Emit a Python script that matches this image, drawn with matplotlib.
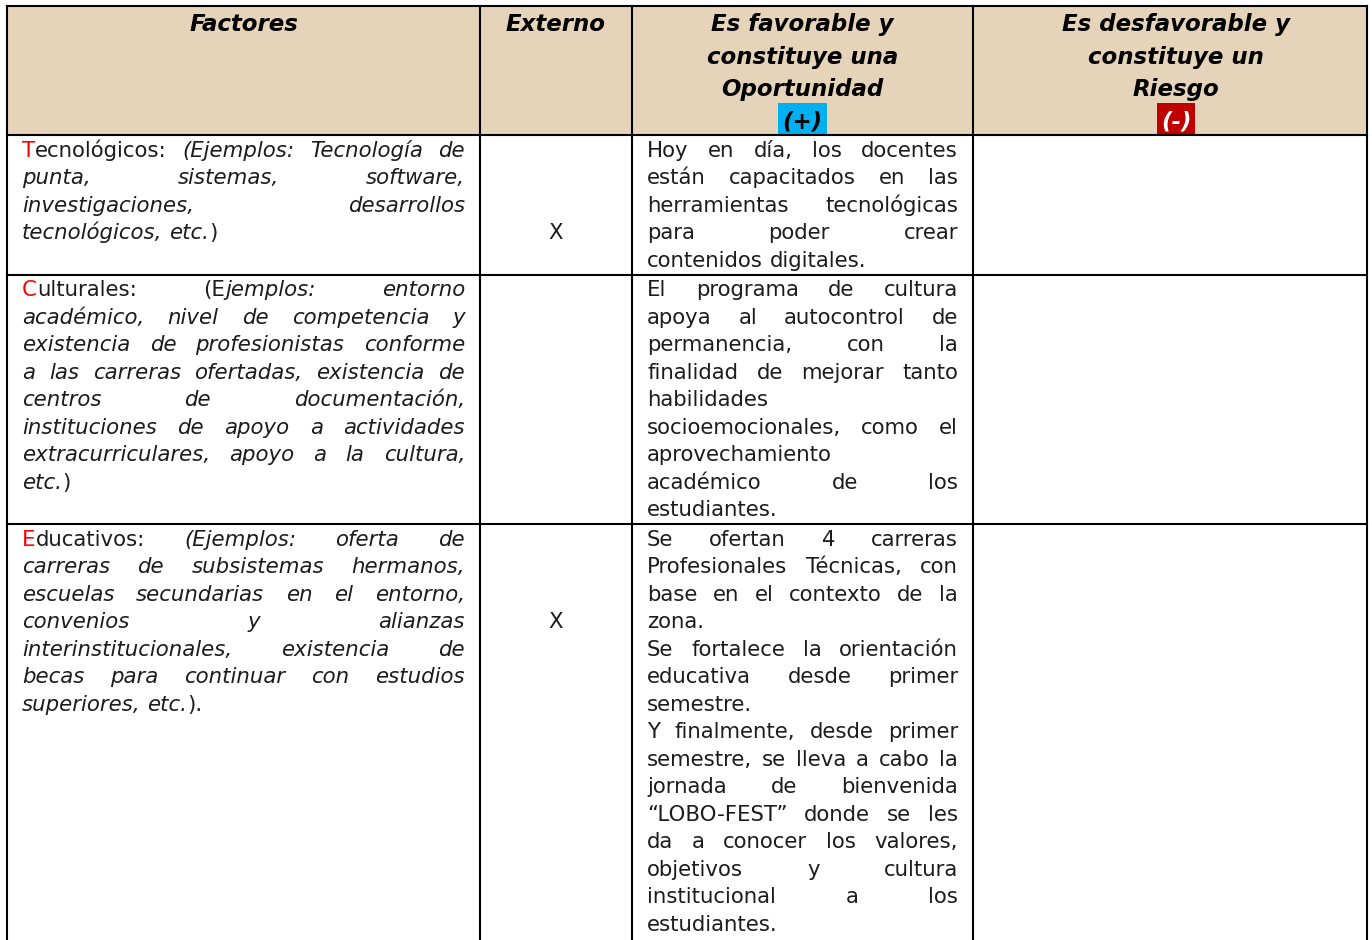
import matplotlib
matplotlib.use("Agg")
import matplotlib.pyplot as plt
from matplotlib.patches import Rectangle
from matplotlib.font_manager import FontProperties

# ---- contenido de la tabla ----
headers = [
    ["Factores"],
    ["Externo"],
    ["Es favorable y", "constituye una", "Oportunidad", "(+)"],
    ["Es desfavorable y", "constituye un", "Riesgo", "(-)"],
]

# '^' = la letra siguiente va en rojo, '_' = activa/desactiva cursiva
factores = [
    ["^Tecnológicos: _(Ejemplos: Tecnología de",
     "punta, sistemas, software,",
     "investigaciones, desarrollos",
     "tecnológicos, etc._)"],
    ["^Culturales: (E_jemplos: entorno",
     "académico, nivel de competencia y",
     "existencia de profesionistas conforme",
     "a las carreras ofertadas, existencia de",
     "centros de documentación,",
     "instituciones de apoyo a actividades",
     "extracurriculares, apoyo a la cultura,",
     "etc._)"],
    ["^Educativos: _(Ejemplos: oferta de",
     "carreras de subsistemas hermanos,",
     "escuelas secundarias en el entorno,",
     "convenios y alianzas",
     "interinstitucionales, existencia de",
     "becas para continuar con estudios",
     "superiores, etc._)."],
]

externo = ["X", "", "X"]
externo_linea = [3, 0, 3]

# cada fila: lista de párrafos (la última línea de cada párrafo no se justifica)
oportunidades = [
    [["Hoy en día, los docentes",
      "están capacitados en las",
      "herramientas tecnológicas",
      "para poder crear",
      "contenidos digitales."]],
    [["El programa de cultura",
      "apoya al autocontrol de",
      "permanencia, con la",
      "finalidad de mejorar tanto",
      "habilidades",
      "socioemocionales, como el",
      "aprovechamiento",
      "académico de los",
      "estudiantes."]],
    [["Se ofertan 4 carreras",
      "Profesionales Técnicas, con",
      "base en el contexto de la",
      "zona."],
     ["Se fortalece la orientación",
      "educativa desde primer",
      "semestre."],
     ["Y finalmente, desde primer",
      "semestre, se lleva a cabo la",
      "jornada de bienvenida",
      "“LOBO-FEST” donde se les",
      "da a conocer los valores,",
      "objetivos y cultura",
      "institucional a los",
      "estudiantes."]],
]

riesgos = ["", "", ""]

# ---- estilo ----
W, H = 1372, 940
col_x = [7, 480, 632, 973, 1367]
top, head_bottom = 6, 135
line_h = 27.5
pad = 15
header_bg = "#E5D3BA"
txt_col = "#1c1c1c"
red = "#FF0000"
lw = 1.5

fig = plt.figure(figsize=(W / 100, H / 100), dpi=100)
ax = fig.add_axes([0, 0, 1, 1])
ax.set_xlim(0, W)
ax.set_ylim(H, 0)
ax.axis("off")
renderer = fig.canvas.get_renderer()


def width(s, italic, fs, bold=False):
    fp = FontProperties(family="DejaVu Sans", size=fs,
                        style="italic" if italic else "normal",
                        weight="bold" if bold else "normal")
    w, h, d = renderer.get_text_width_height_descent(s, fp, ismath=False)
    return w


def parse(lines):
    italic = False
    parsed = []
    for ln in lines:
        words, runs, buf = [], [], ""
        red_next = False
        for ch in ln:
            if ch in "_^ ":
                if buf:
                    runs.append((buf, italic, False))
                    buf = ""
                if ch == "_":
                    italic = not italic
                elif ch == "^":
                    red_next = True
                elif runs:
                    words.append(runs)
                    runs = []
            elif red_next:
                runs.append((ch, italic, True))
                red_next = False
            else:
                buf += ch
        if buf:
            runs.append((buf, italic, False))
        if runs:
            words.append(runs)
        parsed.append(words)
    return parsed


def natural(words, fs):
    sp = width("a a", False, fs) - width("aa", False, fs)
    return sum(width(t, it, fs) for w in words for t, it, r in w) + sp * (len(words) - 1)


def draw_line(words, x0, x1, yc, justify, fs):
    fs_px = fs * 100 / 72
    base = yc + 0.34 * fs_px
    wsum = [sum(width(t, it, fs) for t, it, r in w) for w in words]
    sp = width("a a", False, fs) - width("aa", False, fs)
    gap = sp
    if justify and len(words) > 1:
        gap = (x1 - x0 - sum(wsum)) / (len(words) - 1)
    x = x0
    for w, ww in zip(words, wsum):
        xx = x
        for t, it, r in w:
            ax.text(xx, base, t, fontsize=fs, family="DejaVu Sans",
                    style="italic" if it else "normal",
                    color=red if r else txt_col, ha="left", va="baseline")
            xx += width(t, it, fs)
        x += ww + gap


# celdas ya analizadas: (palabras, justificar)
cells_f = []
for lines in factores:
    p = parse(lines)
    cells_f.append([(wds, i < len(p) - 1) for i, wds in enumerate(p)])
cells_o = []
for paras in oportunidades:
    cell = []
    for para in paras:
        p = parse(para)
        cell += [(wds, i < len(p) - 1) for i, wds in enumerate(p)]
    cells_o.append(cell)

# tamaño de letra que cabe en las columnas
fs0 = 15.5
ratio = 1.0
for cells, c in ((cells_f, 0), (cells_o, 2)):
    inner = col_x[c + 1] - col_x[c] - 2 * pad
    for cell in cells:
        for wds, j in cell:
            ratio = min(ratio, inner / natural(wds, fs0))
fs_body = fs0 * min(1.0, ratio * 0.99)

# filas
row_tops = [head_bottom]
for a, b in zip(cells_f, cells_o):
    n = max(len(a), len(b))
    row_tops.append(row_tops[-1] + n * line_h + 2)

# encabezado
ax.add_patch(Rectangle((col_x[0], top), col_x[-1] - col_x[0], head_bottom - top,
                       facecolor=header_bg, edgecolor="none", zorder=0))
fs_head = 16.5
head_step = 32.3
for c, lines in enumerate(headers):
    cx = (col_x[c] + col_x[c + 1]) / 2
    if c == 3:
        cx += 6
    for i, s in enumerate(lines):
        yc = top + 17 + i * head_step
        col = "black"
        if s in ("(+)", "(-)"):
            bw = width(s, True, fs_head, bold=True) + 8
            ax.add_patch(Rectangle((cx - bw / 2, head_bottom - 32), bw, 32,
                                   facecolor="#00B0F0" if s == "(+)" else "#C00000",
                                   edgecolor="none", zorder=1))
            col = "black" if s == "(+)" else "white"
        ax.text(cx, yc + 0.36 * fs_head * 100 / 72, s, fontsize=fs_head,
                family="DejaVu Sans", style="italic", weight="bold",
                color=col, ha="center", va="baseline", zorder=2)

# cuerpo
for r in range(len(factores)):
    y0 = row_tops[r] + 1
    for c, cell in ((0, cells_f[r]), (2, cells_o[r])):
        x0, x1 = col_x[c] + pad, col_x[c + 1] - pad
        for i, (wds, just) in enumerate(cell):
            draw_line(wds, x0, x1, y0 + (i + 0.5) * line_h, just, fs_body)
    if externo[r]:
        ax.text((col_x[1] + col_x[2]) / 2,
                y0 + (externo_linea[r] + 0.5) * line_h + 0.34 * fs_body * 100 / 72,
                externo[r], fontsize=fs_body, family="DejaVu Sans",
                color=txt_col, ha="center", va="baseline")

# bordes (la tabla sigue por debajo del recorte: sin línea inferior)
for x in col_x:
    ax.plot([x, x], [top, H + 5], color="black", lw=lw, solid_capstyle="projecting")
for y in [top, head_bottom] + row_tops[1:-1]:
    ax.plot([col_x[0], col_x[-1]], [y, y], color="black", lw=lw,
            solid_capstyle="projecting")

fig.savefig("out.png", dpi=100)
